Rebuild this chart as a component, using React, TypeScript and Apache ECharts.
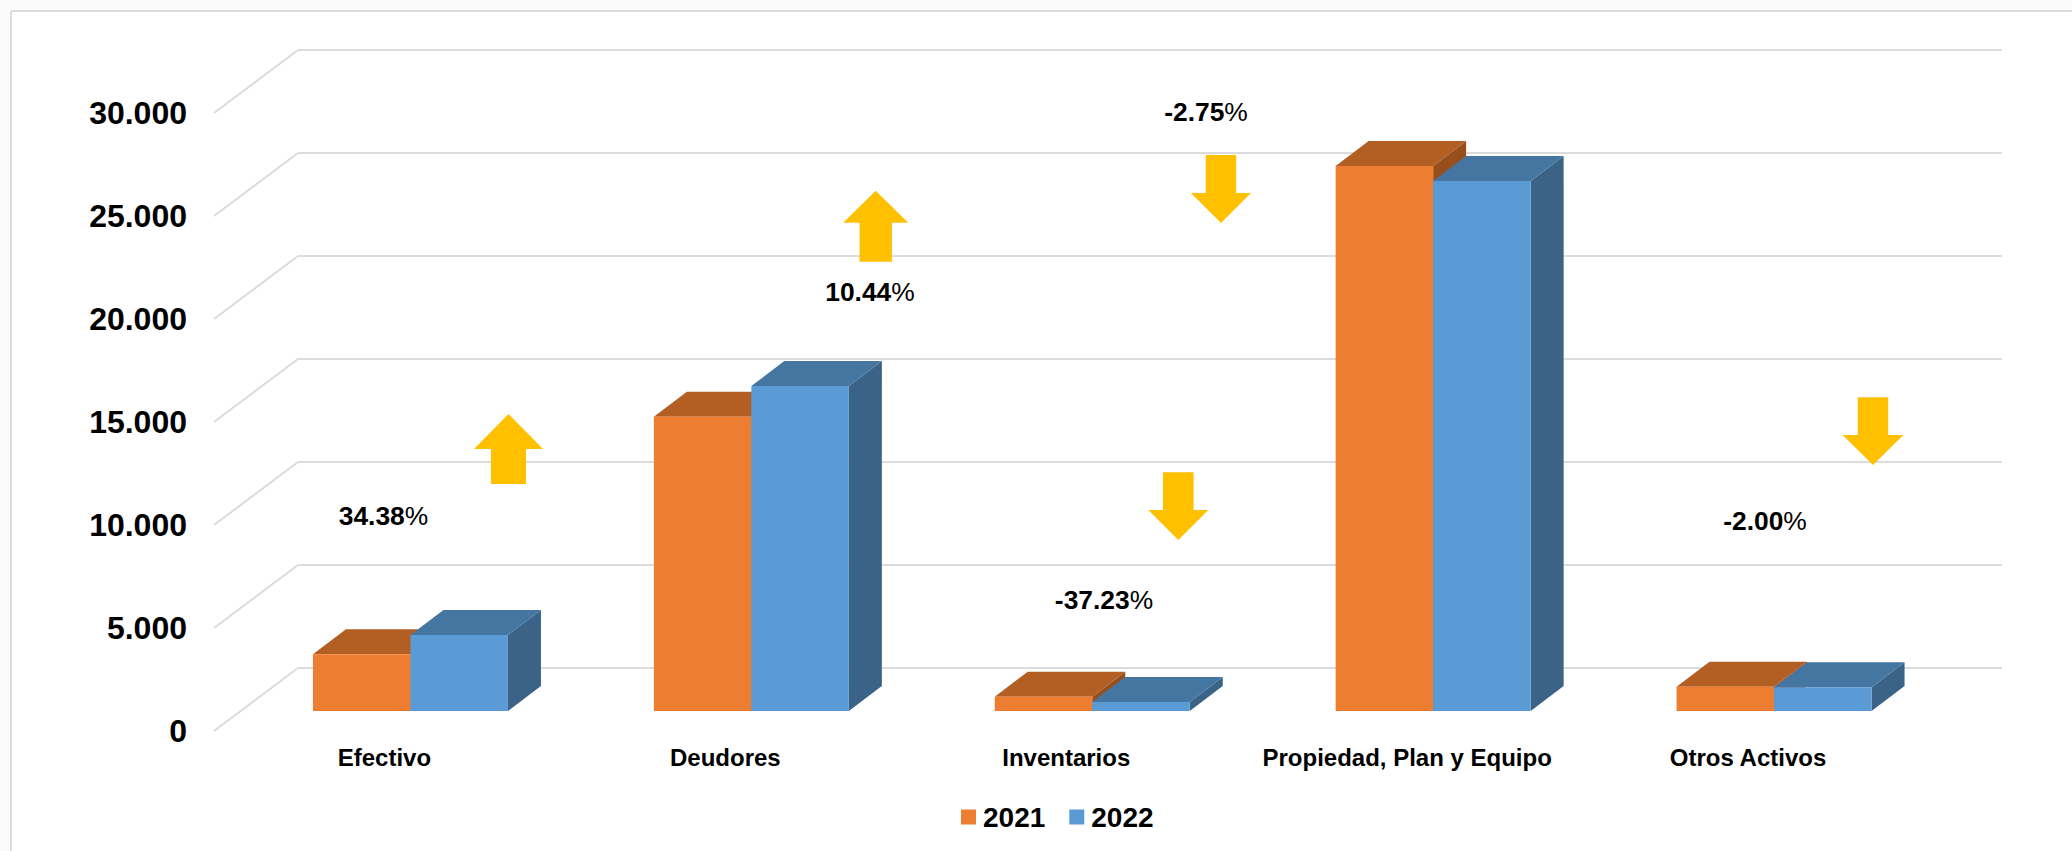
import React, { useEffect, useRef } from "react";
import * as echarts from "echarts";

const categories = ["Efectivo", "Deudores", "Inventarios", "Propiedad, Plan y Equipo", "Otros Activos"];
const values2021 = [2750, 14285, 694, 26456, 1180];
const values2022 = [3695, 15776, 436, 25730, 1156];
const yTicks = [0, 5000, 10000, 15000, 20000, 25000, 30000];
const yTickLabels = ["0", "5.000", "10.000", "15.000", "20.000", "25.000", "30.000"];
const changeLabels = ["34.38", "10.44", "-37.23", "-2.75", "-2.00"];

const FONT = "Liberation Sans";
const DEPTH_X = 33;
const DEPTH_Y = 25;
const BAR_RATIO = 0.286;
const AMBER = "#ffc000";
const GRID_COLOR = "#dcdcdc";

const labelPos = [
  [383.5, 516],
  [870, 292],
  [1104, 600],
  [1206, 112],
  [1765, 521],
];

const arrows = [
  { x: 508.5, tip: 414, dir: 1, head: 34.5, shaft: 17.5, headLen: 35, len: 70 },
  { x: 875.7, tip: 190.7, dir: 1, head: 32.5, shaft: 16.2, headLen: 32, len: 71 },
  { x: 1178.3, tip: 540, dir: -1, head: 30, shaft: 15.3, headLen: 30, len: 67.7 },
  { x: 1221, tip: 223, dir: -1, head: 30, shaft: 15.2, headLen: 30, len: 68 },
  { x: 1873, tip: 465, dir: -1, head: 30.3, shaft: 15.2, headLen: 30, len: 67.7 },
];

function arrowPoints(a: (typeof arrows)[number]) {
  const d = a.dir;
  return [
    [a.x, a.tip],
    [a.x + a.head, a.tip + d * a.headLen],
    [a.x + a.shaft, a.tip + d * a.headLen],
    [a.x + a.shaft, a.tip + d * a.len],
    [a.x - a.shaft, a.tip + d * a.len],
    [a.x - a.shaft, a.tip + d * a.headLen],
    [a.x - a.head, a.tip + d * a.headLen],
  ];
}

function cuboid(offsetSign: number, front: string, top: string, side: string) {
  return (_params: any, api: any) => {
    const idx = api.value(0);
    const val = api.value(1);
    const p = api.coord([idx, val]);
    const base = api.coord([idx, 0]);
    const w = api.size([1, 0])[0] * BAR_RATIO;
    const x0 = offsetSign < 0 ? p[0] - w : p[0];
    const x1 = x0 + w;
    const yT = p[1];
    const yB = base[1];
    return {
      type: "group",
      children: [
        {
          type: "polygon",
          shape: { points: [[x1, yT], [x1 + DEPTH_X, yT - DEPTH_Y], [x1 + DEPTH_X, yB - DEPTH_Y], [x1, yB]] },
          style: { fill: side },
        },
        {
          type: "polygon",
          shape: { points: [[x0, yT], [x0 + DEPTH_X, yT - DEPTH_Y], [x1 + DEPTH_X, yT - DEPTH_Y], [x1, yT]] },
          style: { fill: top },
        },
        { type: "rect", shape: { x: x0, y: yT, width: w, height: yB - yT }, style: { fill: front } },
      ],
    };
  };
}

export default function App() {
  const ref = useRef<HTMLDivElement>(null);

  useEffect(() => {
    const chart = echarts.init(ref.current!, undefined, { renderer: "svg" });

    const graphics: any[] = [
      { type: "rect", shape: { x: 0, y: 0, width: 2072, height: 10 }, style: { fill: "#fbfbfb" }, z: 1 },
      { type: "rect", shape: { x: 0, y: 0, width: 10, height: 851 }, style: { fill: "#fbfbfb" }, z: 1 },
      { type: "line", shape: { x1: 11, y1: 11, x2: 2072, y2: 11 }, style: { stroke: GRID_COLOR, lineWidth: 2 }, z: 1 },
      { type: "line", shape: { x1: 11, y1: 11, x2: 11, y2: 851 }, style: { stroke: GRID_COLOR, lineWidth: 2 }, z: 1 },
      ...arrows.map((a) => ({
        type: "polygon",
        shape: { points: arrowPoints(a) },
        style: { fill: AMBER },
        z: 20,
      })),
      ...changeLabels.map((t, i) => ({
        type: "text",
        x: labelPos[i][0],
        y: labelPos[i][1],
        z: 21,
        style: {
          text: `{b|${t}}{r|%}`,
          align: "center",
          verticalAlign: "middle",
          rich: {
            b: { fontFamily: FONT, fontSize: 26.4, fontWeight: "bold", fill: "#000" },
            r: { fontFamily: FONT, fontSize: 26.4, fontWeight: "normal", fill: "#000" },
          },
        },
      })),
    ];

    chart.setOption({
      animation: false,
      backgroundColor: "#fff",
      graphic: graphics,
      legend: {
        left: 956,
        top: 798,
        icon: "rect",
        itemWidth: 15,
        itemHeight: 15,
        itemGap: 24,
        selectedMode: false,
        data: ["2021", "2022"],
        textStyle: { fontFamily: FONT, fontSize: 28, fontWeight: "bold", color: "#000", padding: [0, 0, 0, 2] },
      },
      grid: [
        { left: 298, width: 1704, top: 50, height: 618 },
        { left: 214, width: 1704.5, top: 113, height: 618 },
        { left: 240, width: 1704.5, top: 93, height: 618 },
      ],
      xAxis: [
        { gridIndex: 0, type: "value", show: false, min: 0, max: 1 },
        {
          gridIndex: 1,
          type: "category",
          data: categories,
          axisLine: { show: false },
          axisTick: { show: false },
          axisLabel: {
            interval: 0,
            margin: 14,
            fontFamily: FONT,
            fontSize: 24,
            fontWeight: "bold",
            color: "#000",
          },
        },
        { gridIndex: 2, type: "category", data: categories, show: false },
      ],
      yAxis: [
        {
          gridIndex: 0,
          type: "value",
          min: 0,
          max: 30000,
          interval: 5000,
          axisLine: { show: false },
          axisTick: { show: false },
          axisLabel: { show: false },
          splitLine: { show: true, lineStyle: { color: GRID_COLOR, width: 2 } },
        },
        {
          gridIndex: 1,
          type: "value",
          min: 0,
          max: 30000,
          interval: 5000,
          axisLine: { show: false },
          axisTick: { show: false },
          splitLine: { show: false },
          axisLabel: {
            margin: 27,
            fontFamily: FONT,
            fontSize: 32,
            fontWeight: "bold",
            color: "#000",
            formatter: (v: number) => yTickLabels[yTicks.indexOf(v)],
          },
        },
        { gridIndex: 2, type: "value", min: 0, max: 30000, interval: 5000, show: false, splitLine: { show: false } },
      ],
      series: [
        {
          type: "custom",
          name: "walls",
          xAxisIndex: 1,
          yAxisIndex: 1,
          silent: true,
          z: 1,
          data: yTicks.map((v) => [0, v]),
          encode: { x: 0, y: 1 },
          renderItem: (params: any, api: any) => {
            const p = api.coord([0, api.value(1)]);
            const x = params.coordSys.x;
            return {
              type: "line",
              shape: { x1: x, y1: p[1], x2: x + 84, y2: p[1] - 63 },
              style: { stroke: GRID_COLOR, lineWidth: 2 },
            };
          },
        },
        {
          type: "custom",
          name: "2021",
          xAxisIndex: 2,
          yAxisIndex: 2,
          z: 3,
          itemStyle: { color: "#ed7d31" },
          data: values2021.map((v, i) => [i, v]),
          encode: { x: 0, y: 1 },
          renderItem: cuboid(-1, "#ed7d31", "#b35f24", "#974f1e"),
        },
        {
          type: "custom",
          name: "2022",
          xAxisIndex: 2,
          yAxisIndex: 2,
          z: 4,
          itemStyle: { color: "#5b9bd5" },
          data: values2022.map((v, i) => [i, v]),
          encode: { x: 0, y: 1 },
          renderItem: cuboid(1, "#5b9bd5", "#4575a1", "#3a6387"),
        },
      ],
    });

    return () => chart.dispose();
  }, []);

  return <div ref={ref} style={{ position: "absolute", left: 0, top: 0, width: 2072, height: 851 }} />;
}
